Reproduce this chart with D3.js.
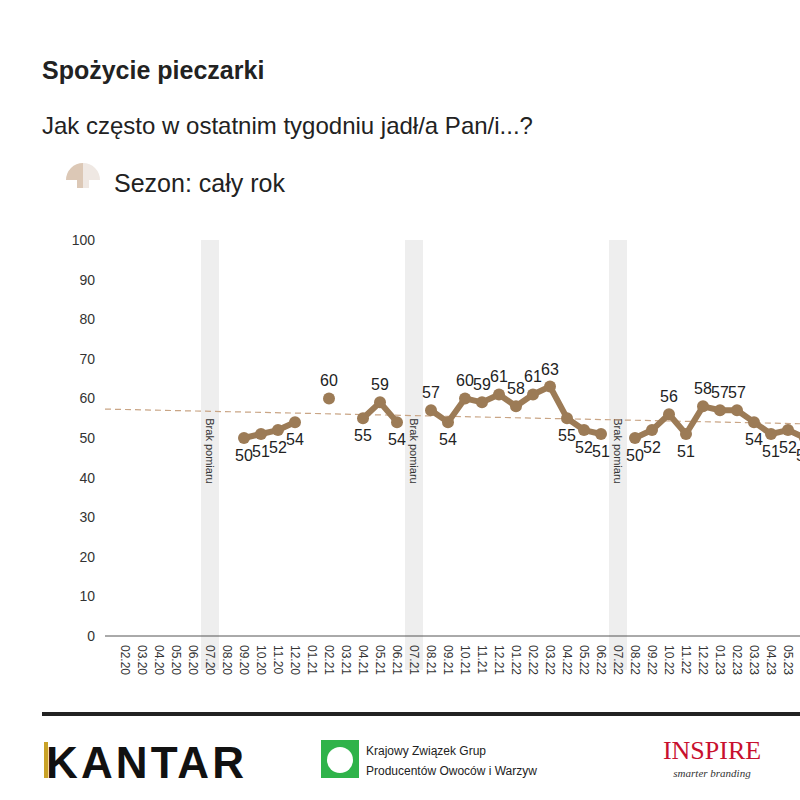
<!DOCTYPE html>
<html lang="pl">
<head>
<meta charset="UTF-8">
<script src="https://cdn.jsdelivr.net/npm/d3@7"></script>
<style>body{margin:0;background:#fff;font-family:Arial,"Liberation Sans",sans-serif}</style>
</head>
<body>
<script>
const months = ["02.20","03.20","04.20","05.20","06.20","07.20","08.20","09.20","10.20","11.20","12.20",
  "01.21","02.21","03.21","04.21","05.21","06.21","07.21","08.21","09.21","10.21","11.21","12.21",
  "01.22","02.22","03.22","04.22","05.22","06.22","07.22","08.22","09.22","10.22","11.22","12.22",
  "01.23","02.23","03.23","04.23","05.23","06.23","07.23"];
const values = [null,null,null,null,null,null,null,50,51,52,54,
  null,60,null,55,59,54,null,57,54,60,59,61,
  58,61,63,55,52,51,null,50,52,56,51,58,
  57,57,54,51,52,50,null];
const noData = ["07.20","07.21","07.22"];
const trend = [57.3, 53.6];
const yTicks = d3.range(0, 101, 10);

const W = 800, H = 800;
const svg = d3.select("body").append("svg").attr("width", W).attr("height", H);

svg.append("text").attr("x", 42).attr("y", 79).attr("font-size", 25).attr("font-weight", "bold")
  .attr("fill", "#222").text("Spożycie pieczarki");
svg.append("text").attr("x", 42).attr("y", 134).attr("font-size", 24).attr("fill", "#222")
  .text("Jak często w ostatnim tygodniu jadł/a Pan/i...?");
// icon
svg.append("path").attr("d", "M66,180 A17,17 0 0 1 83,163 L83,188 L77,188 L77,180 Z").attr("fill", "#dcc8b6");
svg.append("path").attr("d", "M83,163 A17,17 0 0 1 100,180 L89,180 L89,188 L83,188 Z").attr("fill", "#efe8e3");
svg.append("text").attr("x", 114).attr("y", 192).attr("font-size", 25).attr("fill", "#222").text("Sezon: cały rok");

const x = d3.scalePoint().domain(months).range([125, 125 + 17 * (months.length - 1)]);
const y = d3.scaleLinear().domain([0, 100]).range([636, 240]);

// no-data bands
noData.forEach(m => {
  svg.append("rect").attr("x", x(m) - 9).attr("y", 240).attr("width", 18).attr("height", 430).attr("fill", "#eeeeee");
  svg.append("text").attr("transform", `translate(${x(m) - 4},${y(57) + 8}) rotate(90)`)
    .attr("font-size", 11).attr("fill", "#333").text("Brak pomiaru");
});

// y axis labels
svg.append("g").selectAll("text").data(yTicks).join("text")
  .attr("x", 95).attr("y", d => y(d) + 5).attr("text-anchor", "end")
  .attr("font-size", 14).attr("fill", "#333").text(d => d);

// x axis
svg.append("line").attr("x1", 105).attr("x2", W).attr("y1", 636).attr("y2", 636).attr("stroke", "#555");
svg.append("g").selectAll("text").data(months).join("text")
  .attr("transform", d => `translate(${x(d) - 4},645) rotate(90)`)
  .attr("font-size", 12).attr("fill", "#333").text(d => d);

// trend
const tx = d3.scaleLinear().domain([105, 800]).range(trend);
svg.append("line").attr("x1", 105).attr("x2", 800).attr("y1", y(trend[0])).attr("y2", y(trend[1]))
  .attr("stroke", "#c9a585").attr("stroke-width", 1.2).attr("stroke-dasharray", "6,4");

const col = "#9c7b56";
const pts = months.map((m, i) => ({ m, v: values[i] }));
svg.append("path").datum(pts)
  .attr("d", d3.line().defined(d => d.v != null).x(d => x(d.m)).y(d => y(d.v)))
  .attr("fill", "none").attr("stroke", col).attr("stroke-width", 6).attr("stroke-linejoin", "round");
const valid = pts.filter(d => d.v != null);
svg.append("g").selectAll("circle").data(valid).join("circle")
  .attr("cx", d => x(d.m)).attr("cy", d => y(d.v)).attr("r", 6).attr("fill", col);
svg.append("g").selectAll("text").data(valid).join("text")
  .attr("x", d => x(d.m)).attr("text-anchor", "middle").attr("font-size", 16).attr("fill", "#222")
  .attr("y", d => d.v > tx(x(d.m)) + 1 ? y(d.v) - 12 : y(d.v) + 23)
  .text(d => d.v);

// footer
svg.append("line").attr("x1", 42).attr("x2", W).attr("y1", 714).attr("y2", 714).attr("stroke", "#222").attr("stroke-width", 4);
svg.append("rect").attr("x", 44).attr("y", 742).attr("width", 4).attr("height", 36).attr("fill", "#c9a227");
svg.append("text").attr("x", 46).attr("y", 778).attr("font-size", 44).attr("font-weight", "bold")
  .attr("fill", "#111").attr("textLength", 198).text("KANTAR");
svg.append("rect").attr("x", 321).attr("y", 740).attr("width", 38).attr("height", 38).attr("fill", "#2fb34a");
svg.append("circle").attr("cx", 340).attr("cy", 760).attr("r", 13).attr("fill", "#fff");
svg.append("text").attr("x", 366).attr("y", 755).attr("font-size", 12).attr("fill", "#222").text("Krajowy Związek Grup");
svg.append("text").attr("x", 366).attr("y", 775).attr("font-size", 12).attr("fill", "#222").text("Producentów Owoców i Warzyw");
svg.append("text").attr("x", 712).attr("y", 759).attr("text-anchor", "middle").attr("font-size", 26)
  .attr("font-family", "Liberation Serif,serif").attr("fill", "#c8102e").text("INSPIRE");
svg.append("text").attr("x", 712).attr("y", 777).attr("text-anchor", "middle").attr("font-size", 11)
  .attr("font-style", "italic").attr("font-family", "Liberation Serif,serif").attr("fill", "#333").text("smarter branding");
</script>
</body>
</html>
